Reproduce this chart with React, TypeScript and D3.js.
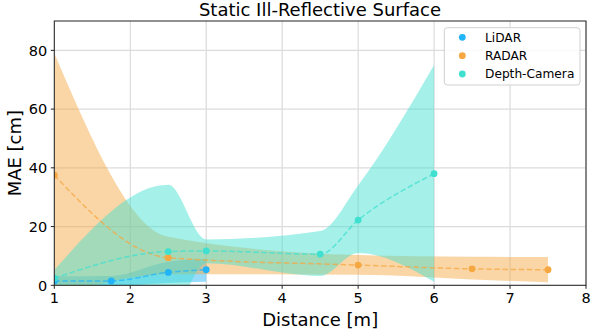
import React from "react";
import * as d3 from "d3";

// distances [m] and MAE [cm]
const lidarX = [1, 1.75, 2.5, 3];
const lidarMean = [1.5, 1.5, 4.4, 5.3];
const lidarUpper = [3.1, 3.2, 8.0, 9.0];
const lidarLower = [0, -0.2, 0.8, 1.2];

const radarX = [1, 2.5, 5, 6.5, 7.5];
const radarMean = [37.5, 9.4, 6.9, 5.6, 5.3];
const radarUpper = [79, 16.5, 10.3, 9.7, 9.6];
const radarLower = [-4, 3.8, 3.6, 2.0, 1.0];

const depthX = [1, 2.5, 3, 4.5, 5, 6];
const depthMean = [2.4, 11.5, 11.7, 10.6, 22.2, 38];
const depthUpper = [5.2, 34.2, 15.6, 18.5, 34, 75];
const depthLower = [-0.5, -11, 7.5, 3.2, 11, 1.2];

const xTicks = [1, 2, 3, 4, 5, 6, 7, 8];
const yTicks = [0, 20, 40, 60, 80];

const sensors = [
  { name: "LiDAR", color: "#22b4f8", x: lidarX, mean: lidarMean, hi: lidarUpper, lo: lidarLower },
  { name: "RADAR", color: "#f5a842", x: radarX, mean: radarMean, hi: radarUpper, lo: radarLower },
  { name: "Depth-Camera", color: "#40e0d0", x: depthX, mean: depthMean, hi: depthUpper, lo: depthLower },
];

const W = 598;
const H = 330;
const m = { left: 54.3, right: 586, top: 21, bottom: 285.3 };
const font = "DejaVu Sans, sans-serif";

export default function App() {
  const x = d3.scaleLinear().domain([1, 8]).range([m.left, m.right]);
  const y = d3.scaleLinear().domain([0, 90]).range([m.bottom, m.top]);

  const band = (s: any) =>
    d3
      .area<number>()
      .x((_, i) => x(s.x[i]))
      .y0((_, i) => y(s.lo[i]))
      .y1((_, i) => y(s.hi[i]))
      .curve(d3.curveMonotoneX)(s.x);

  const meanLine = (s: any) =>
    d3
      .line<number>()
      .x((_, i) => x(s.x[i]))
      .y((_, i) => y(s.mean[i]))
      .curve(d3.curveMonotoneX)(s.x);

  return (
    <svg
      width={W}
      height={H}
      style={{ position: "absolute", left: 0, top: 0, background: "#fff" }}
      fontFamily={font}
    >
      <defs>
        <clipPath id="plot">
          <rect x={m.left} y={m.top} width={m.right - m.left} height={m.bottom - m.top} />
        </clipPath>
      </defs>

      {/* grid */}
      {xTicks.map((t) => (
        <line key={"gx" + t} x1={x(t)} x2={x(t)} y1={m.top} y2={m.bottom} stroke="#d4d4d4" strokeWidth={1} />
      ))}
      {yTicks.map((t) => (
        <line key={"gy" + t} x1={m.left} x2={m.right} y1={y(t)} y2={y(t)} stroke="#dcdcdc" strokeWidth={1.2} />
      ))}

      <g clipPath="url(#plot)">
        {sensors.map((s) => (
          <path key={"b" + s.name} d={band(s) || ""} fill={s.color} fillOpacity={0.47} stroke="none" />
        ))}
        {sensors.map((s) => (
          <path
            key={"l" + s.name}
            d={meanLine(s) || ""}
            fill="none"
            stroke={s.color}
            strokeOpacity={0.75}
            strokeWidth={1.5}
            strokeDasharray="5.5,2.6"
          />
        ))}
        {sensors.map((s) =>
          s.x.map((v, i) => (
            <circle key={s.name + i} cx={x(v)} cy={y(s.mean[i])} r={3.4} fill={s.color} />
          ))
        )}
      </g>

      {/* spines */}
      <rect
        x={m.left}
        y={m.top}
        width={m.right - m.left}
        height={m.bottom - m.top}
        fill="none"
        stroke="#222"
        strokeWidth={1}
      />

      {/* x axis */}
      {xTicks.map((t) => (
        <g key={"xt" + t}>
          <line x1={x(t)} x2={x(t)} y1={m.bottom} y2={m.bottom + 3.5} stroke="#222" strokeWidth={1} />
          <text x={x(t)} y={303} textAnchor="middle" fontSize={14.5} fill="#000">
            {t}
          </text>
        </g>
      ))}
      {/* y axis */}
      {yTicks.map((t) => (
        <g key={"yt" + t}>
          <line x1={m.left - 3.5} x2={m.left} y1={y(t)} y2={y(t)} stroke="#222" strokeWidth={1} />
          <text x={m.left - 7} y={y(t)} dy="0.36em" textAnchor="end" fontSize={14.5} fill="#000">
            {t}
          </text>
        </g>
      ))}

      <text x={(m.left + m.right) / 2} y={325.5} textAnchor="middle" fontSize={18} fill="#000">
        Distance [m]
      </text>
      <text
        transform={`translate(20.5,${(m.top + m.bottom) / 2}) rotate(-90)`}
        textAnchor="middle"
        fontSize={18}
        fill="#000"
      >
        MAE [cm]
      </text>
      <text x={320} y={15.5} textAnchor="middle" fontSize={18} fill="#000">
        Static Ill-Reflective Surface
      </text>

      {/* legend */}
      <g>
        <rect x={444.3} y={27.7} width={135.7} height={57.3} rx={3} fill="#fff" fillOpacity={0.85} stroke="#d0d0d0" strokeWidth={1} />
        {sensors.map((s, i) => (
          <g key={"lg" + s.name}>
            <circle cx={462.3} cy={37.3 + i * 18.35} r={3.4} fill={s.color} />
            <text x={485} y={37.3 + i * 18.35} dy="0.36em" fontSize={12.2} fill="#000">
              {s.name}
            </text>
          </g>
        ))}
      </g>
    </svg>
  );
}
